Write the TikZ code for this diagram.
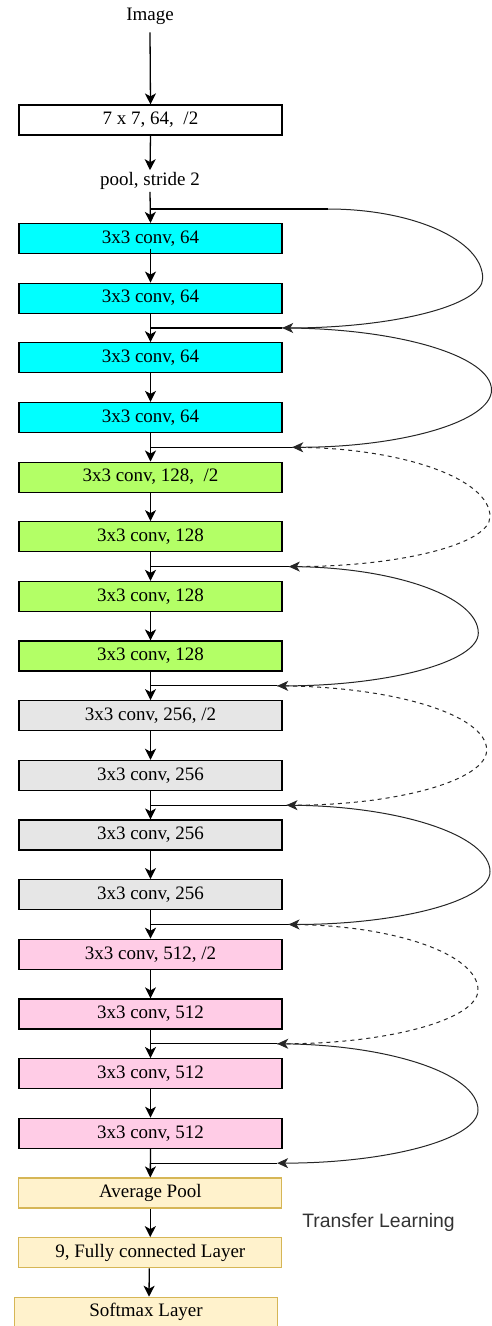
\documentclass[tikz,border=0pt]{standalone}
\usepackage{fontspec}
\setmainfont{Liberation Serif}
\newfontfamily\tlsans{Liberation Sans}
\usetikzlibrary{arrows.meta,calc}
\definecolor{cyanF}{HTML}{00FFFF}
\definecolor{greenF}{HTML}{B3FF66}
\definecolor{grayF}{HTML}{E6E6E6}
\definecolor{pinkF}{HTML}{FFCCE6}
\definecolor{yelF}{HTML}{FFF2CC}
\definecolor{yelD}{HTML}{D6B656}
\definecolor{tlgray}{HTML}{333333}
\newcommand\rsSkip[4]{\draw[#1] (#2) .. controls ($(#2)!0.55!(#2 -| #3)$) and ($(#3)!0.55!(#2 -| #3)$) .. (#3) .. controls ($(#3)!0.55!(#4 -| #3)$) and ($(#4)!0.55!(#4 -| #3)$) .. (#4);}
\begin{document}
\begin{tikzpicture}[x=1pt,y=-1pt,
  lbl/.style={font=\fontsize{19}{22}\selectfont, text=black, inner sep=2pt},
  blk/.style={draw=black, line width=1.2pt, minimum width=263pt, minimum height=30pt, inner sep=0pt, font=\fontsize{19}{22}\selectfont, text=black},
  ylw/.style={blk, draw=yelD, fill=yelF},
  arr/.style={line width=1.3pt, -{Stealth[length=11pt,width=11pt,inset=3pt]}},
  hline/.style={line width=1.1pt},
  skipl/.style={line width=1pt, draw=black!85, -{Stealth[length=11pt,width=10pt,inset=3pt]}},
  skipd/.style={skipl, dash pattern=on 4pt off 4pt}]
\useasboundingbox (0,0) rectangle (492,1326);

% stem
\node[lbl] (img) at (150,16) {Image};
\node[blk, fill=white] (b7) at (150.5,120) {7 x 7, 64,\ \ /2};
\node[lbl] (pool) at (150,181) {pool, stride 2};

% conv blocks
\node[blk, fill=cyanF]  (c0)  at (150.5,238.5)  {3x3 conv, 64};
\node[blk, fill=cyanF]  (c1)  at (150.5,298.15) {3x3 conv, 64};
\node[blk, fill=cyanF]  (c2)  at (150.5,357.8)  {3x3 conv, 64};
\node[blk, fill=cyanF]  (c3)  at (150.5,417.45) {3x3 conv, 64};
\node[blk, fill=greenF] (c4)  at (150.5,477.1)  {3x3 conv, 128,\ \ /2};
\node[blk, fill=greenF] (c5)  at (150.5,536.75) {3x3 conv, 128};
\node[blk, fill=greenF] (c6)  at (150.5,596.4)  {3x3 conv, 128};
\node[blk, fill=greenF] (c7)  at (150.5,656.05) {3x3 conv, 128};
\node[blk, fill=grayF]  (c8)  at (150.5,715.7)  {3x3 conv, 256, /2};
\node[blk, fill=grayF]  (c9)  at (150.5,775.35) {3x3 conv, 256};
\node[blk, fill=grayF]  (c10) at (150.5,835.0)  {3x3 conv, 256};
\node[blk, fill=grayF]  (c11) at (150.5,894.65) {3x3 conv, 256};
\node[blk, fill=pinkF]  (c12) at (150.5,954.3)  {3x3 conv, 512, /2};
\node[blk, fill=pinkF]  (c13) at (150.5,1013.95){3x3 conv, 512};
\node[blk, fill=pinkF]  (c14) at (150.5,1073.6) {3x3 conv, 512};
\node[blk, fill=pinkF]  (c15) at (150.5,1133.25){3x3 conv, 512};

% head
\node[ylw] (avg) at (150.3,1193)   {Average Pool};
\node[ylw] (fc)  at (150.3,1252.7) {9, Fully connected Layer};
\node[ylw] (sm)  at (146,1312.3)   {Softmax Layer};
\node[font=\tlsans\fontsize{19.4}{23}\selectfont, text=tlgray, inner sep=0pt] (tl) at (378.5,1222.5) {Transfer Learning};

% main arrows
\draw[arr] ([yshift=-6pt]img.south) -- (b7.north);
\draw[arr] (b7.south) -- (pool.north);
\draw[arr] (pool.south) -- (c0.north);
\draw[arr] ([yshift=5.5pt]c0.south) -- (c1.north);
\foreach \a/\b in {c1/c2,c2/c3,c3/c4,c4/c5,c5/c6,c6/c7,c7/c8,c8/c9,c9/c10,c10/c11,c11/c12,c12/c13,c13/c14,c14/c15,c15/avg}
  \draw[arr] (\a.south) -- (\b.north);
\draw[arr] (avg.south) -- (fc.north);
\draw[arr] ([xshift=-1pt]fc.south) -- ([xshift=3pt]sm.north);

% junctions
\coordinate (J0) at (150,209);
\coordinate (J1) at ($(c1.south)!0.5!(c2.north)$);
\coordinate (J2) at ($(c3.south)!0.5!(c4.north)$);
\coordinate (J3) at ($(c5.south)!0.5!(c6.north)$);
\coordinate (J4) at ($(c7.south)!0.5!(c8.north)$);
\coordinate (J5) at ($(c9.south)!0.5!(c10.north)$);
\coordinate (J6) at ($(c11.south)!0.5!(c12.north)$);
\coordinate (J7) at ($(c13.south)!0.5!(c14.north)$);
\coordinate (J8) at ($(c15.south)!0.5!(avg.north)$);

% skip end points (arrow tips) and rightmost points
\coordinate (S0) at ($(J0)+(178,0)$);
\coordinate (T1) at ($(J1)+(131.7,0)$);
\coordinate (T2) at ($(J2)+(141.7,0)$);
\coordinate (T3) at ($(J3)+(138.3,0)$);
\coordinate (T4) at ($(J4)+(126.7,0)$);
\coordinate (T5) at ($(J5)+(136,0)$);
\coordinate (T6) at ($(J6)+(138,0)$);
\coordinate (T7) at ($(J7)+(126.7,0)$);
\coordinate (T8) at ($(J8)+(126.7,0)$);
\coordinate (R0) at (482.7,278.3);
\coordinate (R1) at (491.5,390);
\coordinate (R2) at (490,516.7);
\coordinate (R3) at (478.3,633);
\coordinate (R4) at (486.7,750);
\coordinate (R5) at (490,871.7);
\coordinate (R6) at (478,990);
\coordinate (R7) at (478,1110);

% horizontal junction lines
\draw[hline] (J0) -- (S0);
\foreach \j in {1,...,8} \draw[hline] (J\j) -- (T\j);

% skip curves
\rsSkip{skipl}{S0}{R0}{T1}
\rsSkip{skipl}{T1}{R1}{T2}
\rsSkip{skipd}{T2}{R2}{T3}
\rsSkip{skipl}{T3}{R3}{T4}
\rsSkip{skipd}{T4}{R4}{T5}
\rsSkip{skipl}{T5}{R5}{T6}
\rsSkip{skipd}{T6}{R6}{T7}
\rsSkip{skipl}{T7}{R7}{T8}
\end{tikzpicture}
\end{document}
